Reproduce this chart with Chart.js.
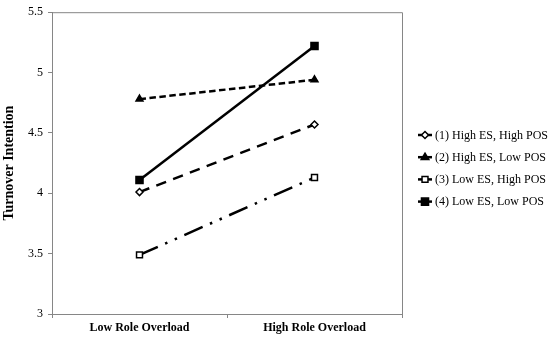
<!DOCTYPE html>
<html><head><meta charset="utf-8">
<script src="https://cdn.jsdelivr.net/npm/chart.js@4/dist/chart.umd.min.js"></script>
<style>html,body{margin:0;padding:0;background:#fff}</style>
</head><body>
<canvas id="c" width="550" height="339" style="width:550px;height:339px;display:block"></canvas>
<script>
const categories = ['Low Role Overload', 'High Role Overload'];
const seriesNames = ['(1) High ES, High POS', '(2) High ES, Low POS', '(3) Low ES, High POS', '(4) Low ES, Low POS'];
const highEsHighPos = [4.01, 4.57];
const highEsLowPos = [4.78, 4.94];
const lowEsHighPos = [3.49, 4.13];
const lowEsLowPos = [4.11, 5.22];
const yTicks = [3, 3.5, 4, 4.5, 5, 5.5];
const yTitle = 'Turnover Intention';

const AXIS = '#868686';
const FONT = "'Liberation Serif', 'Times New Roman', serif";

const seriesValues = [highEsHighPos, highEsLowPos, lowEsHighPos, lowEsLowPos];
const styles = [
  {pointStyle: 'rectRot', radius: 3.5, fill: '#fff', dash: [10.5, 7.5]},
  {pointStyle: 'triangle', radius: 4, fill: '#000', dash: [6.5, 3.5]},
  {pointStyle: 'rect', radius: 4.2, fill: '#fff', dash: [20, 8, 2.5, 8, 2.5, 8]},
  {pointStyle: 'rect', radius: 5, fill: '#000', dash: []}
];

const datasets = seriesValues.map((vals, i) => ({
  label: seriesNames[i],
  data: vals,
  borderColor: '#000',
  borderWidth: 2.5,
  borderDash: styles[i].dash,
  pointStyle: styles[i].pointStyle,
  pointRadius: styles[i].radius,
  pointHoverRadius: styles[i].radius,
  pointBackgroundColor: styles[i].fill,
  pointBorderColor: '#000',
  pointBorderWidth: 1.5,
  tension: 0,
  fill: false
}));

const framePlugin = {
  id: 'frame',
  beforeDatasetsDraw(chart) {
    const {ctx, chartArea: a} = chart;
    ctx.save();
    ctx.strokeStyle = AXIS;
    ctx.lineWidth = 1;
    ctx.beginPath();
    ctx.moveTo(a.left, a.top + 0.5);
    ctx.lineTo(a.right + 0.5, a.top + 0.5);
    ctx.lineTo(a.right + 0.5, a.bottom);
    ctx.stroke();
    ctx.restore();
  }
};

function drawMarker(ctx, style, x, y, r, fill) {
  ctx.beginPath();
  if (style === 'rectRot') {
    ctx.moveTo(x, y - r); ctx.lineTo(x + r, y); ctx.lineTo(x, y + r); ctx.lineTo(x - r, y); ctx.closePath();
  } else if (style === 'triangle') {
    ctx.moveTo(x, y - r); ctx.lineTo(x + r * 0.95, y + r * 0.6); ctx.lineTo(x - r * 0.95, y + r * 0.6); ctx.closePath();
  } else {
    const s = r * Math.SQRT1_2;
    ctx.rect(x - s, y - s, 2 * s, 2 * s);
  }
  ctx.fillStyle = fill;
  ctx.fill();
  ctx.lineWidth = 1.5;
  ctx.strokeStyle = '#000';
  ctx.stroke();
}

const legendPlugin = {
  id: 'excelLegend',
  afterDraw(chart) {
    const {ctx} = chart;
    ctx.save();
    ctx.font = '12px ' + FONT;
    ctx.textBaseline = 'middle';
    ctx.textAlign = 'left';
    chart.data.datasets.forEach((ds, i) => {
      const y = 135 + i * 22.2;
      ctx.setLineDash([]);
      ctx.strokeStyle = '#000';
      ctx.lineWidth = 2.5;
      ctx.beginPath();
      ctx.moveTo(418, y);
      ctx.lineTo(432, y);
      ctx.stroke();
      drawMarker(ctx, styles[i].pointStyle, 425, y, styles[i].radius, styles[i].fill);
      ctx.fillStyle = '#000';
      ctx.fillText(ds.label, 435, y + 0.5);
    });
    ctx.restore();
  }
};

new Chart(document.getElementById('c'), {
  type: 'line',
  data: {labels: categories, datasets},
  options: {
    responsive: false,
    devicePixelRatio: 1,
    animation: false,
    events: [],
    layout: {padding: {left: 0, right: 148, top: 9, bottom: 0}},
    plugins: {legend: {display: false}, tooltip: {enabled: false}},
    scales: {
      x: {
        offset: true,
        grid: {display: true, drawOnChartArea: false, drawTicks: true, tickLength: 4, color: AXIS, offset: true},
        border: {display: true, color: AXIS, width: 1},
        ticks: {color: '#000', padding: 3, font: {family: FONT, size: 12, weight: 'bold'}, maxRotation: 0},
        afterFit(s) { s.height = 25; }
      },
      y: {
        min: 3, max: 5.5,
        afterBuildTicks(s) { s.ticks = yTicks.map(v => ({value: v})); },
        grid: {display: true, drawOnChartArea: false, drawTicks: true, tickLength: 4, color: AXIS},
        border: {display: true, color: AXIS, width: 1},
        ticks: {color: '#000', padding: 5, font: {family: FONT, size: 12}, callback: v => String(v)},
        title: {display: true, text: yTitle, color: '#000', padding: {top: 1, bottom: 0}, font: {family: FONT, size: 14, weight: 'bold'}},
        afterFit(s) { s.width = 52; }
      }
    }
  },
  plugins: [framePlugin, legendPlugin]
});
</script>
</body></html>
